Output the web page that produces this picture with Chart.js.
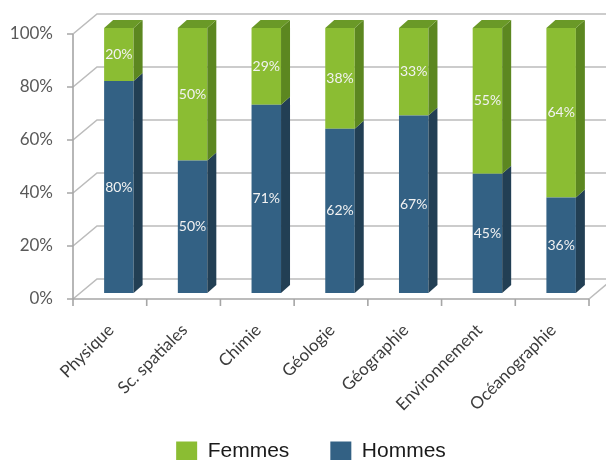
<!DOCTYPE html>
<html>
<head>
<meta charset="utf-8">
<script src="https://cdn.jsdelivr.net/npm/chart.js@4/dist/chart.umd.min.js"></script>
<style>
  html, body { margin: 0; padding: 0; background: #ffffff; }
  #chart { display: block; }
</style>
</head>
<body>
<canvas id="chart" width="606" height="460"></canvas>
<script>
// Répartition hommes / femmes par discipline (en %)
const categories = ['Physique', 'Sc. spatiales', 'Chimie', 'Géologie', 'Géographie', 'Environnement', 'Océanographie'];
const hommes = [80, 50, 71, 62, 67, 45, 36];
const femmes = [20, 50, 29, 38, 33, 55, 64];
const yTickValues = [0, 20, 40, 60, 80, 100];

// Palette
const BLUE = '#336184', BLUE_SIDE = '#223f54', BLUE_TOP = '#2a5170';
const GREEN = '#8bbd33', GREEN_SIDE = '#5c8720', GREEN_TOP = '#6a9927';
const GRID = '#bcbcbc';

// Pseudo-3D geometry (pixels)
const DEPTH_X = 9, DEPTH_Y = 8;           // bar depth
const FRONT_DX = -9, FRONT_DY = 6;        // front edge of the floor relative to bars
const BACK_DX = 15, BACK_DY = -14;        // back wall relative to bars

// Walls, floor edge, axis line and ticks, drawn behind the bars
const wallPlugin = {
  id: 'wallPlugin',
  afterLayout(chart) {
    // let the axis labels use the whole margins around the plot
    chart.scales.y.left = 0;
    chart.scales.x.bottom = chart.height;
  },
  beforeDatasetsDraw(chart) {
    const { ctx, chartArea: a, scales: { y } } = chart;
    const catW = (a.right - a.left) / categories.length;
    const frontL = a.left + FRONT_DX, backL = a.left + BACK_DX;
    const frontR = a.right + FRONT_DX, backR = a.right + BACK_DX;
    ctx.save();
    ctx.lineCap = 'butt';
    ctx.strokeStyle = GRID;
    ctx.lineWidth = 1.6;
    // back-wall gridlines and the side-wall diagonals
    yTickValues.forEach(v => {
      const py = y.getPixelForValue(v);
      ctx.beginPath();
      ctx.moveTo(frontL, py + FRONT_DY);
      ctx.lineTo(backL, py + BACK_DY);
      ctx.lineTo(chart.width + 20, py + BACK_DY);
      ctx.stroke();
    });
    // floor right edge
    const y0 = y.getPixelForValue(0);
    ctx.beginPath();
    ctx.moveTo(frontR, y0 + FRONT_DY);
    ctx.lineTo(backR, y0 + BACK_DY);
    ctx.stroke();
    // front vertical axis with tick marks
    ctx.strokeStyle = '#a6a6a6';
    ctx.beginPath();
    ctx.moveTo(frontL, y.getPixelForValue(100) + FRONT_DY);
    ctx.lineTo(frontL, y0 + FRONT_DY);
    yTickValues.forEach(v => {
      const py = y.getPixelForValue(v) + FRONT_DY;
      ctx.moveTo(frontL - 6, py);
      ctx.lineTo(frontL, py);
    });
    // front horizontal axis with tick marks between categories
    ctx.moveTo(frontL, y0 + FRONT_DY);
    ctx.lineTo(frontR, y0 + FRONT_DY);
    for (let i = 0; i <= categories.length; i++) {
      const px = frontL + i * catW;
      ctx.moveTo(px, y0 + FRONT_DY);
      ctx.lineTo(px, y0 + FRONT_DY + 7);
    }
    ctx.stroke();
    ctx.restore();
  }
};

// Side and top faces of each bar, taken from the bar elements
const depthPlugin = {
  id: 'depthPlugin',
  afterDatasetsDraw(chart) {
    const { ctx } = chart;
    const sides = [BLUE_SIDE, GREEN_SIDE];
    const tops = [BLUE_TOP, GREEN_TOP];
    const last = chart.data.datasets.length - 1;
    ctx.save();
    chart.data.datasets.forEach((ds, i) => {
      chart.getDatasetMeta(i).data.forEach(bar => {
        const { x, y, base, width } = bar.getProps(['x', 'y', 'base', 'width'], true);
        const l = x - width / 2, r = x + width / 2;
        ctx.fillStyle = sides[i];
        ctx.beginPath();
        ctx.moveTo(r, y);
        ctx.lineTo(r + DEPTH_X, y - DEPTH_Y);
        ctx.lineTo(r + DEPTH_X, base - DEPTH_Y);
        ctx.lineTo(r, base);
        ctx.closePath();
        ctx.fill();
        if (i === last) {
          ctx.fillStyle = tops[i];
          ctx.beginPath();
          ctx.moveTo(l, y);
          ctx.lineTo(l + DEPTH_X, y - DEPTH_Y);
          ctx.lineTo(r + DEPTH_X, y - DEPTH_Y);
          ctx.lineTo(r, y);
          ctx.closePath();
          ctx.fill();
        }
      });
    });
    ctx.restore();
  }
};

// Percentage printed in the middle of each segment
const valueLabels = {
  id: 'valueLabels',
  afterDatasetsDraw(chart) {
    const { ctx } = chart;
    ctx.save();
    ctx.fillStyle = '#f2f2f2';
    ctx.font = '14px Lato';
    ctx.textAlign = 'center';
    ctx.textBaseline = 'middle';
    chart.data.datasets.forEach((ds, i) => {
      chart.getDatasetMeta(i).data.forEach((bar, j) => {
        const { x, y, base } = bar.getProps(['x', 'y', 'base'], true);
        ctx.fillText(ds.data[j] + '%', x, (y + base) / 2);
      });
    });
    ctx.restore();
  }
};

new Chart(document.getElementById('chart'), {
  type: 'bar',
  data: {
    labels: categories,
    datasets: [
      { label: 'Hommes', data: hommes, backgroundColor: BLUE },
      { label: 'Femmes', data: femmes, backgroundColor: GREEN }
    ]
  },
  options: {
    responsive: false,
    animation: false,
    layout: { padding: { top: 28, right: 8, left: 24, bottom: 0 } },
    datasets: { bar: { categoryPercentage: 1, barPercentage: 0.4, borderWidth: 0 } },
    scales: {
      x: {
        stacked: true,
        grid: { display: false, drawTicks: true, tickLength: 27 },
        border: { display: false },
        ticks: {
          autoSkip: false, minRotation: 45, maxRotation: 45,
          padding: 0, labelOffset: -8,
          color: '#3c3c3c', font: { family: 'Lato', size: 17 }
        },
        afterFit(scale) { scale.height = 107; }
      },
      y: {
        stacked: true, min: 0, max: 100,
        grid: { display: false, drawTicks: true, tickLength: 29 },
        border: { display: false },
        afterBuildTicks(scale) { scale.ticks = yTickValues.map(v => ({ value: v })); },
        ticks: {
          callback: v => v + '%',
          padding: 0, labelOffset: 6,
          color: '#595959', font: { family: 'Lato', size: 17 }
        },
        afterFit(scale) { scale.width = 58; }
      }
    },
    plugins: {
      legend: {
        position: 'bottom',
        reverse: true,
        maxHeight: 60,
        labels: {
          boxWidth: 21, boxHeight: 20, padding: 41,
          color: '#1a1a1a', font: { family: 'Liberation Sans', size: 21 }
        }
      },
      tooltip: { enabled: false }
    }
  },
  plugins: [wallPlugin, depthPlugin, valueLabels]
});
</script>
</body>
</html>
